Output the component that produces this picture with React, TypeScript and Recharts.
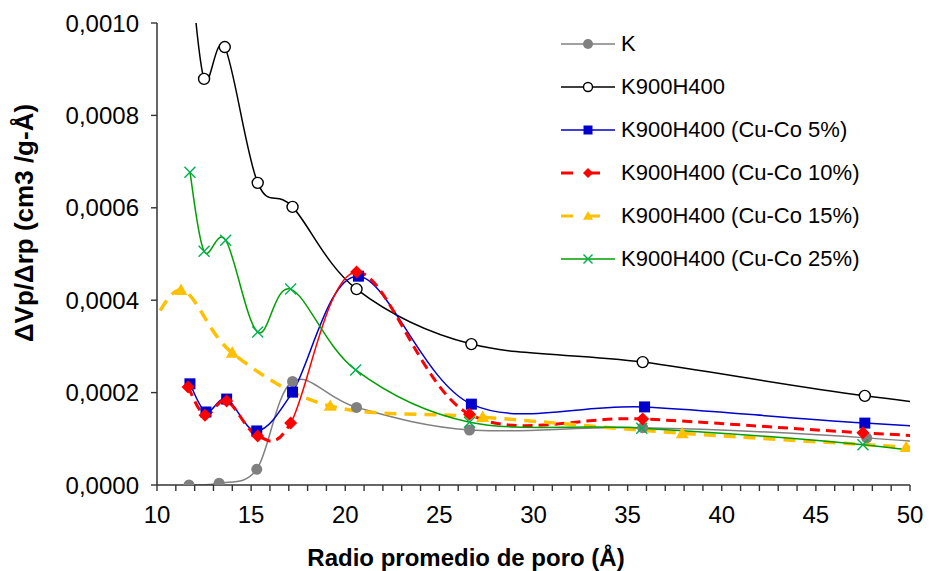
import React from 'react';
import { LineChart, Line, XAxis, YAxis } from 'recharts';

// values
const kX = [11.7, 13.3, 15.3, 17.2, 20.6, 26.6, 35.8, 47.7, 63];
const kY = [0.0, 0.000004, 0.000034, 0.000224, 0.000168, 0.000119, 0.000124, 0.000102, 0.00005];

const k900X = [11.7, 12.5, 13.6, 15.35, 17.2, 20.6, 26.7, 35.8, 47.6, 63];
const k900Y = [0.00116, 0.000879, 0.000948, 0.000654, 0.000602, 0.000424, 0.000305, 0.000266, 0.000193, 0.00012];

const cu5X = [11.75, 12.6, 13.7, 15.3, 17.2, 20.7, 26.7, 35.9, 47.6, 63];
const cu5Y = [0.000219, 0.000158, 0.000186, 0.000117, 0.000201, 0.000452, 0.000175, 0.000169, 0.000134, 0.0001];

const cu10X = [11.65, 12.55, 13.7, 15.35, 17.1, 20.6, 26.6, 35.8, 47.5, 63];
const cu10Y = [0.000212, 0.000151, 0.000182, 0.000106, 0.000134, 0.000461, 0.000153, 0.000143, 0.000113, 0.00008];

const cu15X = [9.2, 11.27, 14.0, 19.2, 27.3, 37.9, 49.8, 66];
const cu15Y = [0.0003, 0.000422, 0.000286, 0.000171, 0.000147, 0.000112, 0.000082, 0.00004];

const cu25X = [11.75, 12.5, 13.65, 15.35, 17.1, 20.55, 26.6, 35.75, 47.5, 63];
const cu25Y = [0.000677, 0.000506, 0.00053, 0.000331, 0.000424, 0.000249, 0.000136, 0.000123, 0.000087, 0.00001];

const xTicks = Array.from({ length: 41 }, (_, i) => 10 + i);
const yTicks = [0, 0.0002, 0.0004, 0.0006, 0.0008, 0.001];

const FONT = '"Liberation Sans", Arial, sans-serif';

const toData = (xs: number[], ys: number[]) => xs.map((x, i) => ({ x, y: ys[i] }));

// Excel-like smoothed line (Catmull-Rom through every point),
// drawing only segments [from, to) so one segment can be styled differently
const excelSmooth = (from = 0, to = Infinity) => (context: any) => {
  let pts: number[][] = [];
  return {
    areaStart() {},
    areaEnd() {},
    lineStart() {
      pts = [];
    },
    point(x: number, y: number) {
      pts.push([+x, +y]);
    },
    lineEnd() {
      const n = pts.length;
      if (!n) return;
      const end = Math.min(to, n - 1);
      context.moveTo(pts[from][0], pts[from][1]);
      for (let i = from; i < end; i++) {
        const p0 = pts[Math.max(i - 1, 0)];
        const p1 = pts[i];
        const p2 = pts[i + 1];
        const p3 = pts[Math.min(i + 2, n - 1)];
        context.bezierCurveTo(
          p1[0] + (p2[0] - p0[0]) / 6,
          p1[1] + (p2[1] - p0[1]) / 6,
          p2[0] - (p3[0] - p1[0]) / 6,
          p2[1] - (p3[1] - p1[1]) / 6,
          p2[0],
          p2[1]
        );
      }
    },
  };
};

type MarkerKind = 'dot' | 'ring' | 'square' | 'diamond' | 'triangle' | 'cross';

const Marker = ({ kind, cx, cy, s }: { kind: MarkerKind; cx: number; cy: number; s: number }) => {
  switch (kind) {
    case 'dot':
      return <circle cx={cx} cy={cy} r={s} fill="#808080" />;
    case 'ring':
      return <circle cx={cx} cy={cy} r={s} fill="#fff" stroke="#000" strokeWidth={1.4} />;
    case 'square':
      return <rect x={cx - s} y={cy - s} width={2 * s} height={2 * s} fill="#0000CC" />;
    case 'diamond':
      return (
        <polygon
          points={`${cx},${cy - s} ${cx + s},${cy} ${cx},${cy + s} ${cx - s},${cy}`}
          fill="#FF0000"
        />
      );
    case 'triangle':
      return (
        <polygon
          points={`${cx},${cy - s} ${cx + s},${cy + s * 0.75} ${cx - s},${cy + s * 0.75}`}
          fill="#FFC000"
        />
      );
    case 'cross':
      return (
        <g stroke="#00B050" strokeWidth={1.4}>
          <line x1={cx - s} y1={cy - s} x2={cx + s} y2={cy + s} />
          <line x1={cx - s} y1={cy + s} x2={cx + s} y2={cy - s} />
        </g>
      );
  }
  return null;
};

const dotOf = (kind: MarkerKind, s: number) => (props: any) => (
  <g key={`${kind}-${props.index}`}>
    <Marker kind={kind} cx={props.cx} cy={props.cy} s={s} />
  </g>
);

type Series = {
  name: string;
  data: { x: number; y: number }[];
  color: string;
  width: number;
  dash?: string;
  kind: MarkerKind;
  s: number;
  ls: number;
  thinSeg?: number;
};

const series: Series[] = [
  { name: 'K', data: toData(kX, kY), color: '#808080', width: 1.5, kind: 'dot', s: 5.5, ls: 5 },
  { name: 'K900H400', data: toData(k900X, k900Y), color: '#000000', width: 1.5, kind: 'ring', s: 5.5, ls: 4.5 },
  { name: 'K900H400 (Cu-Co 5%)', data: toData(cu5X, cu5Y), color: '#0000CC', width: 1.5, kind: 'square', s: 5.5, ls: 4.5 },
  { name: 'K900H400 (Cu-Co 10%)', data: toData(cu10X, cu10Y), color: '#FF0000', width: 3, dash: '10 6', kind: 'diamond', s: 6.5, ls: 5, thinSeg: 4 },
  { name: 'K900H400 (Cu-Co 15%)', data: toData(cu15X, cu15Y), color: '#FFC000', width: 3.5, dash: '12 8', kind: 'triangle', s: 6.5, ls: 5 },
  { name: 'K900H400 (Cu-Co 25%)', data: toData(cu25X, cu25Y), color: '#00A000', width: 1.5, kind: 'cross', s: 5.5, ls: 4.5 },
];

const XTick = (props: any) => {
  const { x, y, payload } = props;
  const major = payload.value % 5 === 0;
  return (
    <g>
      <line x1={x} x2={x} y1={y} y2={y + 6} stroke="#333" strokeWidth={1.4} />
      {major && (
        <text x={x} y={y + 38} textAnchor="middle" fontSize={24} fontFamily={FONT} fill="#000">
          {payload.value}
        </text>
      )}
    </g>
  );
};

const Legend = () => (
  <div style={{ position: 'absolute', left: 560, top: 22, fontFamily: FONT, fontSize: 22, color: '#000' }}>
    {series.map((s) => (
      <div key={s.name} style={{ display: 'flex', alignItems: 'center', height: 43 }}>
        <svg width={56} height={20} style={{ marginRight: 5 }}>
          <line
            x1={1}
            x2={55}
            y1={10}
            y2={10}
            stroke={s.color}
            strokeWidth={s.dash ? 3 : 1.5}
            strokeDasharray={s.dash ? '12 15' : undefined}
          />
          <Marker kind={s.kind} cx={28} cy={10} s={s.ls} />
        </svg>
        <span>{s.name}</span>
      </div>
    ))}
  </div>
);

const renderSeries = (s: Series) => {
  const common = {
    data: s.data,
    dataKey: 'y',
    name: s.name,
    stroke: s.color,
    activeDot: false as const,
    isAnimationActive: false,
  };
  if (s.thinSeg === undefined) {
    return [
      <Line
        key={s.name}
        {...common}
        type={excelSmooth() as any}
        strokeWidth={s.width}
        strokeDasharray={s.dash}
        dot={dotOf(s.kind, s.s)}
      />,
    ];
  }
  const k = s.thinSeg;
  return [
    <Line key={`${s.name}-a`} {...common} type={excelSmooth(0, k) as any} strokeWidth={s.width} strokeDasharray={s.dash} dot={false} />,
    <Line key={`${s.name}-b`} {...common} type={excelSmooth(k, k + 1) as any} strokeWidth={1.5} dot={false} />,
    <Line
      key={`${s.name}-c`}
      {...common}
      type={excelSmooth(k + 1) as any}
      strokeWidth={s.width}
      strokeDasharray={s.dash}
      dot={dotOf(s.kind, s.s)}
    />,
  ];
};

export default function App() {
  return (
    <div style={{ position: 'absolute', left: 0, top: 0, width: 932, height: 571, background: '#fff' }}>
      <LineChart width={932} height={571} margin={{ top: 23, right: 22, bottom: 0, left: 0 }}>
        <XAxis
          type="number"
          dataKey="x"
          domain={[10, 50]}
          allowDataOverflow
          ticks={xTicks}
          interval={0}
          tickSize={0}
          tickMargin={0}
          tickLine={false}
          tick={<XTick />}
          height={86}
          axisLine={{ stroke: '#333', strokeWidth: 1.5 }}
        />
        <YAxis
          type="number"
          domain={[0, 0.001]}
          allowDataOverflow
          ticks={yTicks}
          width={157}
          tickSize={6}
          tickMargin={12}
          tickFormatter={(v: number) => v.toFixed(4).replace('.', ',')}
          tick={{ fontSize: 24, fontFamily: FONT, fill: '#000' }}
          tickLine={{ stroke: '#333', strokeWidth: 1.4 }}
          axisLine={{ stroke: '#333', strokeWidth: 1.5 }}
        />
        {series.flatMap(renderSeries)}
      </LineChart>
      <Legend />
      <div
        style={{
          position: 'absolute',
          left: 466,
          top: 558,
          transform: 'translate(-50%, -50%)',
          fontFamily: FONT,
          fontWeight: 'bold',
          fontSize: 24,
          whiteSpace: 'nowrap',
        }}
      >
        Radio promedio de poro (Å)
      </div>
      <div
        style={{
          position: 'absolute',
          left: 24,
          top: 223,
          transform: 'translate(-50%, -50%) rotate(-90deg)',
          fontFamily: FONT,
          fontWeight: 'bold',
          fontSize: 26,
          whiteSpace: 'nowrap',
        }}
      >
        ΔVp/Δrp (cm3 /g-Å)
      </div>
    </div>
  );
}
